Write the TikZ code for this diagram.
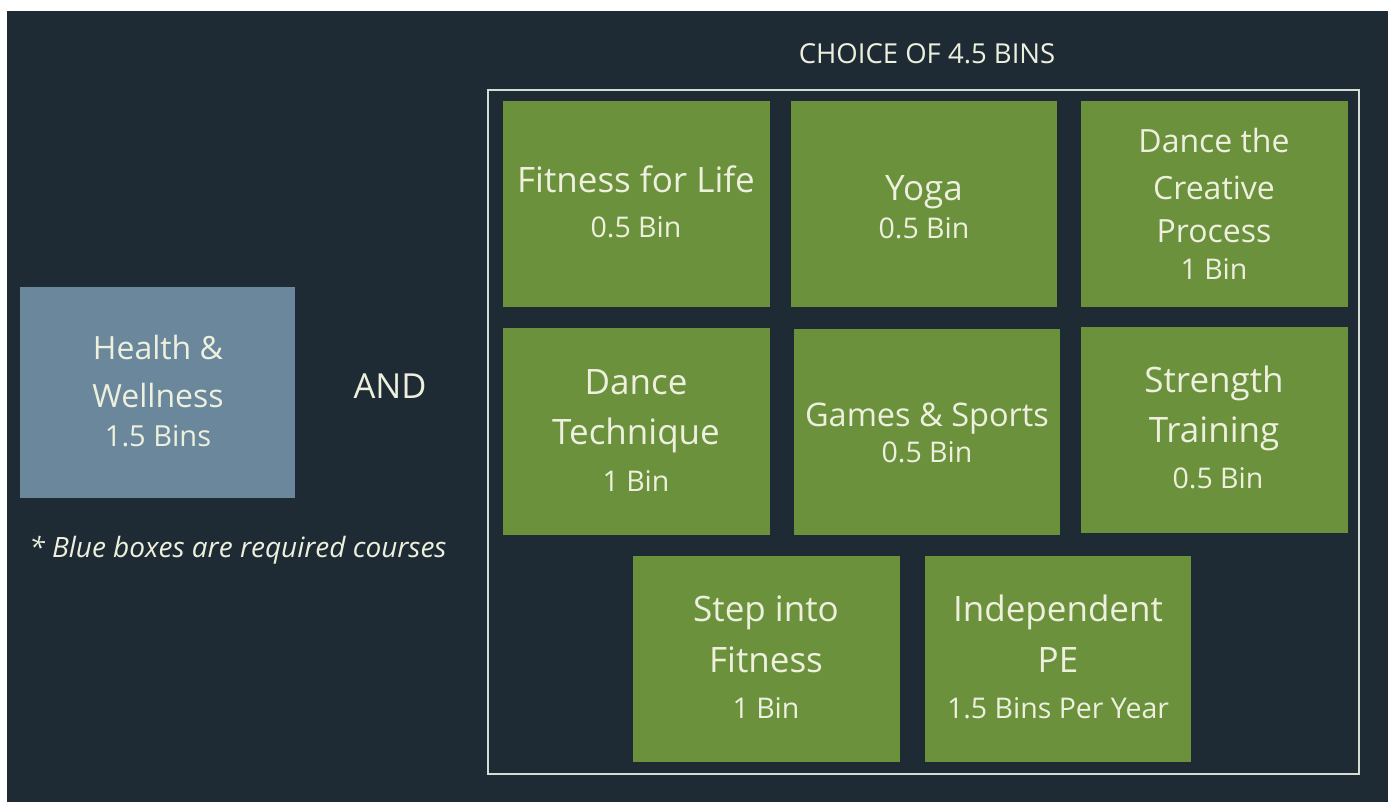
\documentclass[tikz,border=0pt]{standalone}
\usepackage{fontspec}
\setmainfont{Open Sans}
\definecolor{bgc}{HTML}{1F2B34}
\definecolor{grn}{HTML}{6B913D}
\definecolor{blu}{HTML}{6A879C}
\definecolor{txt}{HTML}{EEF0DE}
\definecolor{frm}{HTML}{D5DCD3}
\tikzset{
  gbox/.style={fill=grn, draw=none, inner sep=0pt},
  bbox/.style={fill=blu, draw=none, inner sep=0pt},
  big/.style={text=txt, anchor=base, inner sep=0pt, font=\fontsize{35}{35}\selectfont},
  mid/.style={text=txt, anchor=base, inner sep=0pt, font=\fontsize{32}{32}\selectfont},
  sml/.style={text=txt, anchor=base, inner sep=0pt, font=\fontsize{28.5}{28.5}\selectfont},
}
\begin{document}
\begin{tikzpicture}[x=1pt,y=-1pt]
\useasboundingbox (0,0) rectangle (1388,802);
\fill[white] (0,0) rectangle (1388,802);
\fill[bgc] (7,11) rectangle (1388,802);
% frame
\node[draw=frm, line width=2.5pt, inner sep=0pt, minimum width=871pt, minimum height=684pt] (frame) at (923.5,432) {};
\node[text=txt, anchor=base, inner sep=0pt, font=\fontsize{27.5}{27.5}\selectfont] (title) at (927,64) {CHOICE OF 4.5 BINS};
% blue box
\node[bbox, minimum width=275pt, minimum height=211pt] (hw) at (157.5,392.5) {};
\node[mid] (hw1) at (158,359) {Health \&};
\node[mid] (hw2) at (158,407) {Wellness};
\node[text=txt, anchor=base, inner sep=0pt, font=\fontsize{29}{29}\selectfont] (hw3) at (158,446) {1.5 Bins};
\node[text=txt, anchor=base, inner sep=0pt, font=\fontsize{34.5}{34.5}\selectfont] (and) at (390,398) {AND};
\node[text=txt, anchor=base, inner sep=0pt, font=\fontsize{28}{28}\selectfont\itshape] (note) at (238,557) {* Blue boxes are required courses};
% green boxes
\node[gbox, minimum width=267pt, minimum height=206pt] (b1) at (636.5,204) {};
\node[gbox, minimum width=266pt, minimum height=206pt] (b2) at (924,204) {};
\node[gbox, minimum width=267pt, minimum height=206pt] (b3) at (1214.5,204) {};
\node[gbox, minimum width=267pt, minimum height=207pt] (b4) at (636.5,431.5) {};
\node[gbox, minimum width=266pt, minimum height=206pt] (b5) at (927,432) {};
\node[gbox, minimum width=267pt, minimum height=206pt] (b6) at (1214.5,430) {};
\node[gbox, minimum width=267pt, minimum height=206pt] (b7) at (766.5,659) {};
\node[gbox, minimum width=266pt, minimum height=206pt] (b8) at (1058,659) {};
% texts
\node[big] (t1a) at (636,193) {Fitness for Life};
\node[sml] (t1b) at (636,238) {0.5 Bin};
\node[big] (t2a) at (924,201) {Yoga};
\node[sml] (t2b) at (924,239) {0.5 Bin};
\node[mid] (t3a) at (1214,153) {Dance the};
\node[mid] (t3b) at (1214,200) {Creative};
\node[mid] (t3c) at (1214,243) {Process};
\node[sml] (t3d) at (1214,279) {1 Bin};
\node[big] (t4a) at (636,394) {Dance};
\node[big] (t4b) at (636,444) {Technique};
\node[sml] (t4c) at (636,491) {1 Bin};
\node[big, font=\fontsize{32.5}{32.5}\selectfont] (t5a) at (927,426) {Games \& Sports};
\node[sml] (t5b) at (927,462) {0.5 Bin};
\node[big] (t6a) at (1214,392) {Strength};
\node[big] (t6b) at (1214,442) {Training};
\node[sml] (t6c) at (1218,488) {0.5 Bin};
\node[big] (t7a) at (766,621) {Step into};
\node[big] (t7b) at (766,672) {Fitness};
\node[sml] (t7c) at (766,718) {1 Bin};
\node[big] (t8a) at (1058,621) {Independent};
\node[big] (t8b) at (1058,672) {PE};
\node[sml] (t8c) at (1058,718) {1.5 Bins Per Year};
\end{tikzpicture}
\end{document}
